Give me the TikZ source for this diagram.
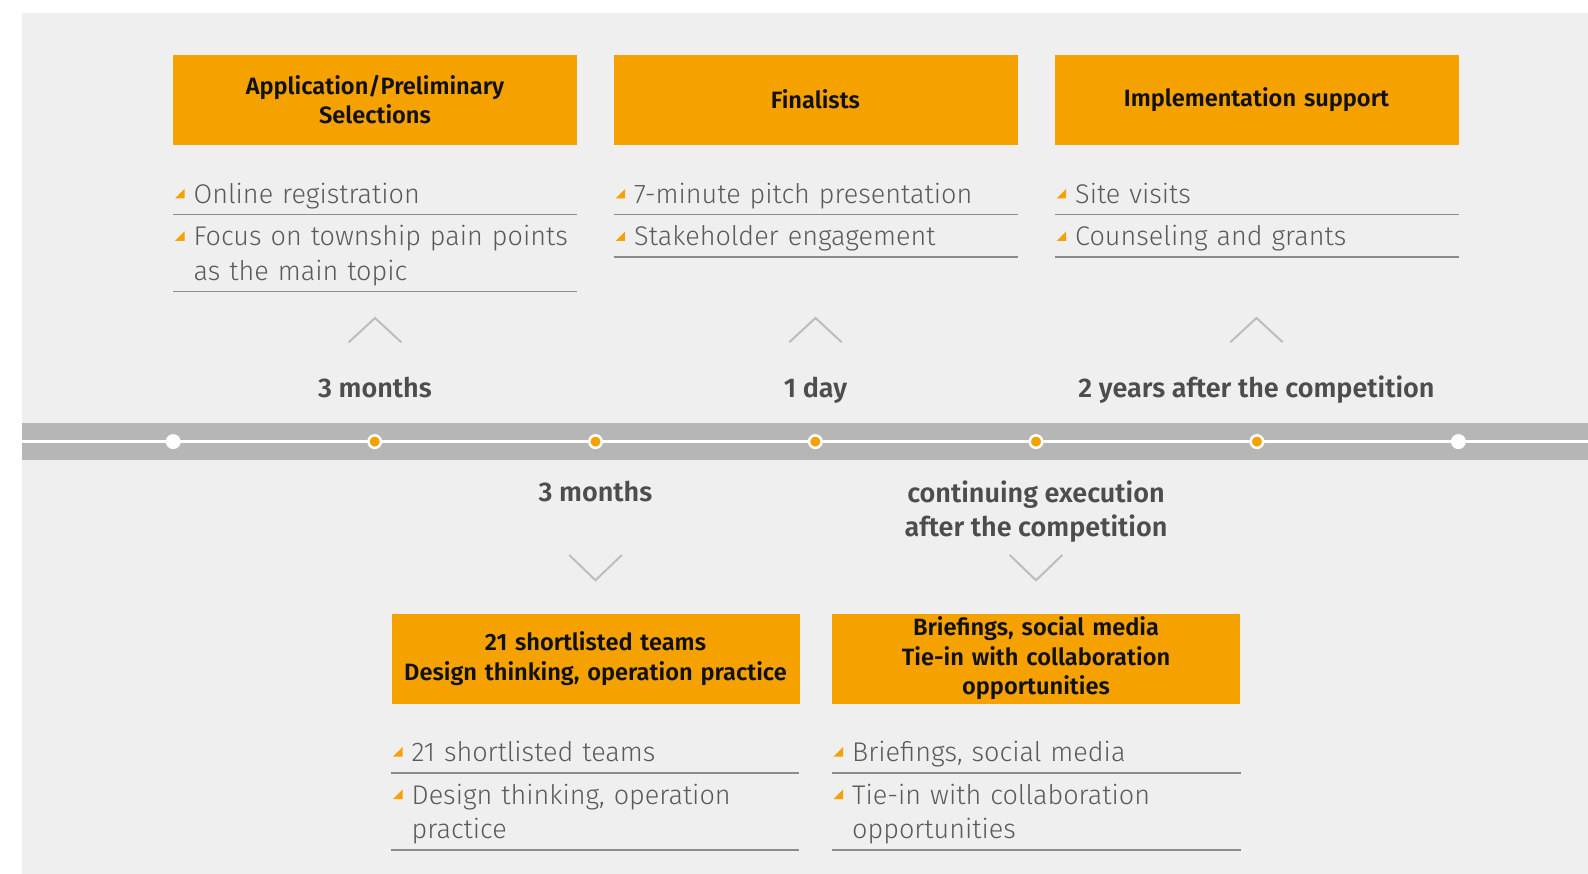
\documentclass[tikz,border=0pt]{standalone}
\usepackage{fontspec}
\setmainfont{Fira Sans}[BoldFont={Fira Sans SemiBold}]
\newfontfamily\lightfont{Fira Sans Light}
\usetikzlibrary{positioning}
\definecolor{bggray}{HTML}{EFEFEF}
\definecolor{bandgray}{HTML}{B5B6B5}
\definecolor{accent}{HTML}{F5A100}
\definecolor{headtext}{HTML}{111111}
\definecolor{itemtext}{HTML}{5A5A5A}
\definecolor{labeltext}{HTML}{4D4D4D}
\definecolor{rulegray}{HTML}{8C8C8C}
\definecolor{chevgray}{HTML}{BDBDBD}
\tikzset{
  header/.style={fill=accent, text=headtext, minimum width=404pt, minimum height=90pt,
    text width=400pt, align=center, inner sep=0pt,
    font=\fontsize{23.6}{29.4}\selectfont\bfseries},
  item/.style={anchor=base west, text width=384pt, align=left, inner sep=0pt,
    text=itemtext, font=\lightfont\fontsize{27}{34.4}\selectfont},
  period/.style={text=labeltext, align=center, inner sep=0pt,
    font=\fontsize{27}{34.6}\selectfont\bfseries},
  end dot/.style={circle, fill=white, minimum size=15pt, inner sep=0pt},
  stage dot/.style={circle, fill=accent, draw=white, line width=2.5pt,
    minimum size=12.5pt, inner sep=0pt},
  chevron/.style={chevgray, line width=2pt},
  divider/.style={rulegray, line width=1.6pt},
  tri/.pic={\fill[accent] (0,0) -- (9.5,0) -- (9.5,-9.5) -- cycle;},
}

\begin{document}
\begin{tikzpicture}[x=1pt, y=-1pt]
  \useasboundingbox (0,0) rectangle (1588,874);
  % Background
  \fill[bggray] (22,12.6) rectangle (1588,874);

  % Timeline band
  \fill[bandgray] (22,423.3) rectangle (1588,459.8);
  \draw[white, line width=2.5pt] (22,441.6) -- (1588,441.6);
  \node[end dot] (d1) at (173.2,441.6) {};
  \node[stage dot] (d2) at (374.7,441.6) {};
  \node[stage dot] (d3) at (595.5,441.6) {};
  \node[stage dot] (d4) at (815.3,441.6) {};
  \node[stage dot] (d5) at (1036,441.6) {};
  \node[stage dot] (d6) at (1256.9,441.6) {};
  \node[end dot] (d7) at (1458.4,441.6) {};

  % Upper stages
  \node[header] (apply) at (375,99.7) {Application/Preliminary\\Selections};
  \node[header] (final) at (815.5,99.7) {Finalists};
  \node[header] (impl) at (1256.5,99.7) {Implementation support};

  \pic at (175,198.5) {tri};
  \node[item] (apply1) at (193.4,203.5) {Online registration};
  \draw[divider] (173,214.7) -- (577,214.7);
  \pic at (175,241) {tri};
  \node[item] (apply2) at (193.4,246) {Focus on township pain points\\as the main topic};
  \draw[divider] (173,291.7) -- (577,291.7);

  \pic at (615.5,198.5) {tri};
  \node[item] (final1) at (634,203.5) {7-minute pitch presentation};
  \draw[divider] (613.5,214.7) -- (1017.5,214.7);
  \pic at (615.5,241) {tri};
  \node[item] (final2) at (634,246) {Stakeholder engagement};
  \draw[divider] (613.5,257) -- (1017.5,257);

  \pic at (1056.5,198.5) {tri};
  \node[item] (impl1) at (1075,203.5) {Site visits};
  \draw[divider] (1054.5,214.7) -- (1458.5,214.7);
  \pic at (1056.5,241) {tri};
  \node[item] (impl2) at (1075,246) {Counseling and grants};
  \draw[divider] (1054.5,257) -- (1458.5,257);

  % Upper durations
  \coordinate (up1) at (375,318);
  \coordinate (up2) at (815.5,318);
  \coordinate (up3) at (1256.5,318);
  \draw[chevron] (up1) ++(-26.3,24.3) -- (up1) -- ++(26.3,24.3);
  \draw[chevron] (up2) ++(-26.3,24.3) -- (up2) -- ++(26.3,24.3);
  \draw[chevron] (up3) ++(-26.3,24.3) -- (up3) -- ++(26.3,24.3);
  \node[period, anchor=base] (t1) at (375,397.5) {3 months};
  \node[period, anchor=base] (t2) at (815.5,397.5) {1 day};
  \node[period, anchor=base] (t3) at (1256.5,397.5) {2 years after the competition};

  % Lower durations
  \node[period, anchor=base] (t4) at (595.5,501.5) {3 months};
  \node[period] (t5) at (1036,511.5) {continuing execution\\after the competition};
  \coordinate (dn1) at (595.5,580.3);
  \coordinate (dn2) at (1036,580.3);
  \draw[chevron] (dn1) ++(-26.3,-25.3) -- (dn1) -- ++(26.3,-25.3);
  \draw[chevron] (dn2) ++(-26.3,-25.3) -- (dn2) -- ++(26.3,-25.3);

  % Lower stages
  \node[header, minimum width=408pt] (teams) at (595.5,658.5)
    {21 shortlisted teams\\Design thinking, operation practice};
  \node[header, minimum width=408pt] (media) at (1036,658.5)
    {Briefings, social media\\Tie-in with collaboration\\opportunities};

  \pic at (393,756.5) {tri};
  \node[item] (teams1) at (411.5,761.5) {21 shortlisted teams};
  \draw[divider] (391,772.8) -- (799,772.8);
  \pic at (393,799) {tri};
  \node[item] (teams2) at (411.5,804) {Design thinking, operation\\practice};
  \draw[divider] (391,849.7) -- (799,849.7);

  \pic at (833.5,756.5) {tri};
  \node[item] (media1) at (852,761.5) {Briefings, social media};
  \draw[divider] (831.5,772.8) -- (1240.5,772.8);
  \pic at (833.5,799) {tri};
  \node[item] (media2) at (852,804) {Tie-in with collaboration\\opportunities};
  \draw[divider] (831.5,849.7) -- (1240.5,849.7);
\end{tikzpicture}
\end{document}
